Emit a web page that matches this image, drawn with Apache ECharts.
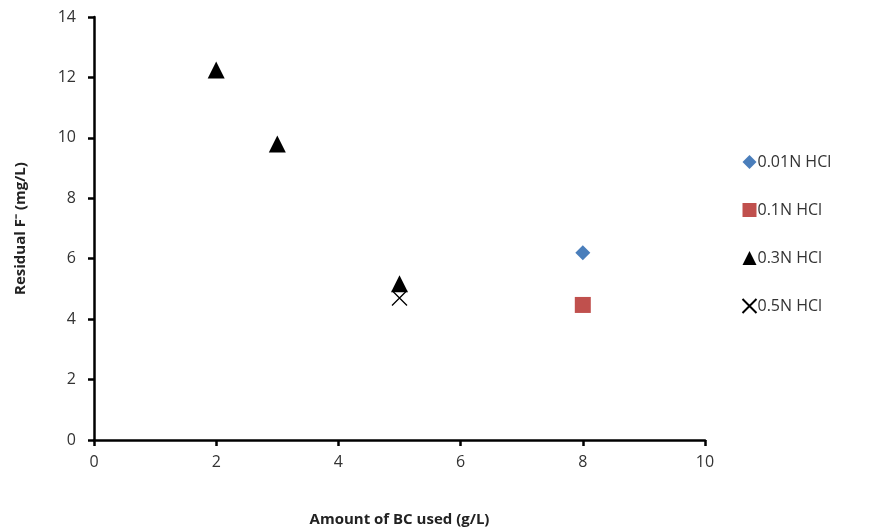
<!DOCTYPE html>
<html><head><meta charset="utf-8">
<script src="https://cdn.jsdelivr.net/npm/echarts@6/dist/echarts.min.js"></script>
<style>html,body{margin:0;padding:0;background:#fff}#c{width:872px;height:532px}</style>
</head><body><div id="c"></div>
<script>
const seriesNames = ['0.01N HCl', '0.1N HCl', '0.3N HCl', '0.5N HCl'];
const s001 = [[8, 6.2]];
const s01 = [[8, 4.47]];
const s03 = [[2, 12.25], [3, 9.8], [5, 5.17]];
const s05 = [[5, 4.7]];
const xTicks = [0, 2, 4, 6, 8, 10];
const yTicks = [0, 2, 4, 6, 8, 10, 12, 14];

const font = 'Open Sans, Liberation Sans, sans-serif';
const chart = echarts.init(document.getElementById('c'));
const xPath = 'path://M0,0L10,10M10,0L0,10';
chart.setOption({
  animation: false,
  grid: {left: 94, right: 167, top: 17, bottom: 92},
  xAxis: {
    type: 'value', min: 0, max: 10, interval: 2,
    name: 'Amount of BC used (g/L)', nameLocation: 'middle', nameGap: 72,
    nameTextStyle: {fontFamily: font, fontWeight: 'bold', fontSize: 15, color: '#222'},
    axisLine: {show: true, lineStyle: {color: '#000', width: 2.5}},
    axisTick: {show: true, length: 6, lineStyle: {color: '#000', width: 2.5}},
    axisLabel: {fontFamily: font, fontSize: 16, color: '#333', margin: 14},
    splitLine: {show: false}
  },
  yAxis: {
    type: 'value', min: 0, max: 14, interval: 2,
    name: 'Residual F\u207B (mg/L)', nameLocation: 'middle', nameGap: 66,
    nameTextStyle: {fontFamily: font, fontWeight: 'bold', fontSize: 15, color: '#222'},
    axisLine: {show: true, lineStyle: {color: '#000', width: 2.5}},
    axisTick: {show: true, length: 6, lineStyle: {color: '#000', width: 2.5}},
    axisLabel: {fontFamily: font, fontSize: 16, color: '#333', margin: 18},
    splitLine: {show: false}
  },
  legend: {
    orient: 'vertical', left: 735, top: 146, itemGap: 26,
    itemWidth: 14, itemHeight: 14,
    textStyle: {fontFamily: font, fontSize: 16, color: '#333', padding: [0, 0, 0, -4], lineHeight: 22},
    data: seriesNames
  },
  series: [
    {name: seriesNames[0], type: 'scatter', data: s001, symbol: 'diamond', symbolSize: [15, 15],
     itemStyle: {color: '#4a7ebb', opacity: 1}},
    {name: seriesNames[1], type: 'scatter', data: s01, symbol: 'rect', symbolSize: 16,
     itemStyle: {color: '#c0504d', opacity: 1}},
    {name: seriesNames[2], type: 'scatter', data: s03, symbol: 'triangle', symbolSize: 17,
     itemStyle: {color: '#000', opacity: 1}},
    {name: seriesNames[3], type: 'scatter', data: s05, symbol: xPath, symbolSize: 15,
     itemStyle: {color: 'none', borderColor: '#000', borderWidth: 1.3, opacity: 1}}
  ]
});
</script></body></html>
